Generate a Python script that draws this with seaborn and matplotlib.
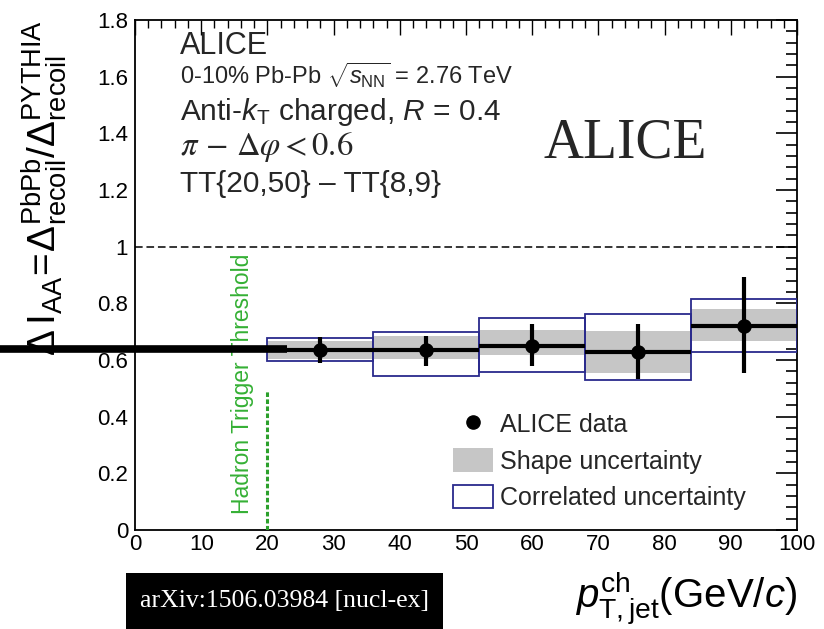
import numpy as np
import pandas as pd
import matplotlib
matplotlib.use("Agg")
import matplotlib.pyplot as plt
import seaborn as sns
from matplotlib.lines import Line2D
from matplotlib.patches import Patch, Rectangle
from matplotlib.ticker import MultipleLocator

# ---------------- data ----------------
bin_lo = [20, 36, 52, 68, 84]
bin_hi = [36, 52, 68, 84, 100]
pt_centers = [28, 44, 60, 76, 92]
iaa_values = [0.634, 0.634, 0.649, 0.628, 0.720]
stat_lo = [0.588, 0.578, 0.578, 0.534, 0.555]
stat_hi = [0.680, 0.684, 0.726, 0.726, 0.892]
shape_lo = [0.605, 0.602, 0.616, 0.555, 0.667]
shape_hi = [0.668, 0.684, 0.706, 0.702, 0.779]
corr_lo = [0.598, 0.543, 0.559, 0.529, 0.629]
corr_hi = [0.676, 0.698, 0.747, 0.763, 0.817]

x_ticks = [0, 10, 20, 30, 40, 50, 60, 70, 80, 90, 100]
y_ticks = [0, 0.2, 0.4, 0.6, 0.8, 1, 1.2, 1.4, 1.6, 1.8]
y_tick_labels = ["0", "0.2", "0.4", "0.6", "0.8", "1", "1.2", "1.4", "1.6", "1.8"]

trigger_threshold = 20
trigger_line_top = 0.49
reference_level = 1.0
overlay_level = 0.64       # thick annotation bar drawn over the left side
overlay_x_end = 23

df = pd.DataFrame({"pt": pt_centers, "iaa": iaa_values})

# ---------------- style ----------------
sns.set_theme(style="white")
plt.rcParams["font.family"] = ["Liberation Sans", "DejaVu Sans"]
plt.rcParams["mathtext.fontset"] = "custom"
plt.rcParams["mathtext.rm"] = "Liberation Sans"
plt.rcParams["mathtext.it"] = "Liberation Sans:italic"
plt.rcParams["mathtext.bf"] = "Liberation Sans:bold"
plt.rcParams["mathtext.sf"] = "Liberation Sans"

W, H = 824, 629
fig = plt.figure(figsize=(W / 100, H / 100), dpi=100)
ax = fig.add_axes([135 / W, 1 - 530 / H, (797 - 135) / W, (530 - 20) / H])
ax.set_facecolor("white")

gray = "#c6c6c6"
navy = "#2a2a8c"
widths = [h - l for l, h in zip(bin_lo, bin_hi)]

ax.set_xlim(0, 100)
ax.set_ylim(0, 1.8)

# shape uncertainty (gray boxes)
ax.bar(pt_centers, [h - l for l, h in zip(shape_lo, shape_hi)], bottom=shape_lo,
       width=widths, color=gray, edgecolor="none", zorder=2)
# correlated uncertainty (open boxes)
ax.bar(pt_centers, [h - l for l, h in zip(corr_lo, corr_hi)], bottom=corr_lo,
       width=widths, fill=False, edgecolor=navy, linewidth=1.3, zorder=3)

# horizontal bin-width bars and vertical stat error bars
ax.hlines(iaa_values, bin_lo, bin_hi, colors="black", linewidth=3.0, zorder=4)
ax.vlines(pt_centers, stat_lo, stat_hi, colors="black", linewidth=3.0, zorder=4)
sns.scatterplot(data=df, x="pt", y="iaa", ax=ax, color="black", s=110,
                edgecolor="black", linewidth=0, zorder=5, legend=False)

# dashed reference line at 1
ax.plot([0, 100], [reference_level, reference_level], color="black",
        linewidth=1.1, linestyle=(0, (5, 2.5)), zorder=3)

# hadron trigger threshold
ax.plot([trigger_threshold, trigger_threshold], [0, trigger_line_top],
        color="#2ca02c", linewidth=2.2, linestyle=(0, (1.5, 0.8)), zorder=3)
ax.text(16.3, 0.055, "Hadron Trigger Threshold", rotation=90, color="#35b035",
        fontsize=16.5, ha="center", va="bottom")

ax.set_xlim(0, 100)
ax.set_ylim(0, 1.8)

# thick overlay bar extending out of the axes to the left
x_left_fig = ax.transData.inverted().transform(fig.transFigure.transform((0, 0)))[0]
ax.plot([x_left_fig, overlay_x_end], [overlay_level, overlay_level], color="black",
        linewidth=5.5, solid_capstyle="butt", clip_on=False, zorder=6)

ax.set_xticks(x_ticks)
ax.set_xticklabels([str(t) for t in x_ticks])
ax.set_yticks(y_ticks)
ax.set_yticklabels(y_tick_labels)
ax.xaxis.set_minor_locator(MultipleLocator(2))
ax.yaxis.set_minor_locator(MultipleLocator(0.04))
ax.tick_params(axis="both", which="both", direction="in", top=True, right=True,
               colors="black", labelsize=16)
ax.tick_params(axis="x", which="major", length=11, width=1.0, pad=3)
ax.tick_params(axis="x", which="minor", length=6, width=1.0)
ax.tick_params(axis="y", which="major", length=15, width=1.2, pad=5)
ax.tick_params(axis="y", which="minor", length=8, width=1.2)
for sp in ax.spines.values():
    sp.set_color("black")
    sp.set_linewidth(1.3)
ax.set_xlim(0, 100)
ax.set_ylim(0, 1.8)

ax.set_ylabel(r"$\Delta\,\mathrm{I}_{\mathrm{AA}}\!=\!\Delta^{\mathrm{PbPb}}_{\mathrm{recoil}}/\Delta^{\mathrm{PYTHIA}}_{\mathrm{recoil}}$",
              fontsize=28, loc="top", color="black")
ax.yaxis.set_label_coords(-0.10, 1.0)
ax.set_xlabel(r"$p^{\mathrm{ch}}_{\mathrm{T,jet}}$(GeV/$c$)", fontsize=29, loc="right",
              color="black")
ax.xaxis.set_label_coords(1.0, -0.076)

# annotations (upper left)
def px(x, y):
    return ((x - 135) / 662, (530 - y) / 510)

ax.text(*px(180, 54), "ALICE", transform=ax.transAxes, fontsize=22, va="baseline")
ax.text(*px(180, 84), r"0-10% Pb-Pb $\sqrt{s_{\mathrm{NN}}}$ = 2.76 TeV",
        transform=ax.transAxes, fontsize=17, va="baseline")
ax.text(*px(180, 120), r"Anti-$k_{\mathrm{T}}$ charged, $R$ = 0.4",
        transform=ax.transAxes, fontsize=21.5, va="baseline")
ax.text(*px(180, 155), r"$\pi\,-\,\Delta\varphi < 0.6$", transform=ax.transAxes,
        fontsize=23.5, va="baseline", math_fontfamily="stix")
ax.text(*px(180, 192), "TT{20,50} \u2013 TT{8,9}", transform=ax.transAxes,
        fontsize=21.5, va="baseline")
ax.text(*px(543, 158), "ALICE", transform=ax.transAxes, fontsize=40,
        va="baseline", family=["Liberation Serif", "DejaVu Serif"])

# legend
handles = [
    Line2D([], [], marker="o", color="black", linestyle="none", markersize=9.5),
    Patch(facecolor=gray, edgecolor="none"),
    Patch(facecolor="white", edgecolor=navy, linewidth=1.3),
]
labels = ["ALICE data", "Shape uncertainty", "Correlated uncertainty"]
ax.legend(handles, labels, loc="upper left", bbox_to_anchor=px(453, 412),
          frameon=False, fontsize=18, handlelength=1.6, handleheight=1.08,
          handletextpad=0.28, labelspacing=0.44, borderpad=0, borderaxespad=0)

# arXiv box
fig.patches.append(Rectangle((126 / W, 0), (443 - 126) / W, (629 - 573) / H,
                             transform=fig.transFigure, facecolor="black",
                             edgecolor="none", zorder=10))
fig.text((126 + 443) / 2 / W, 1 - 601 / H, "arXiv:1506.03984 [nucl-ex]",
         color="white", fontsize=18.5, ha="center", va="center",
         family=["Liberation Serif", "DejaVu Serif"], zorder=11)

fig.savefig("out.png", dpi=100, facecolor="white")
